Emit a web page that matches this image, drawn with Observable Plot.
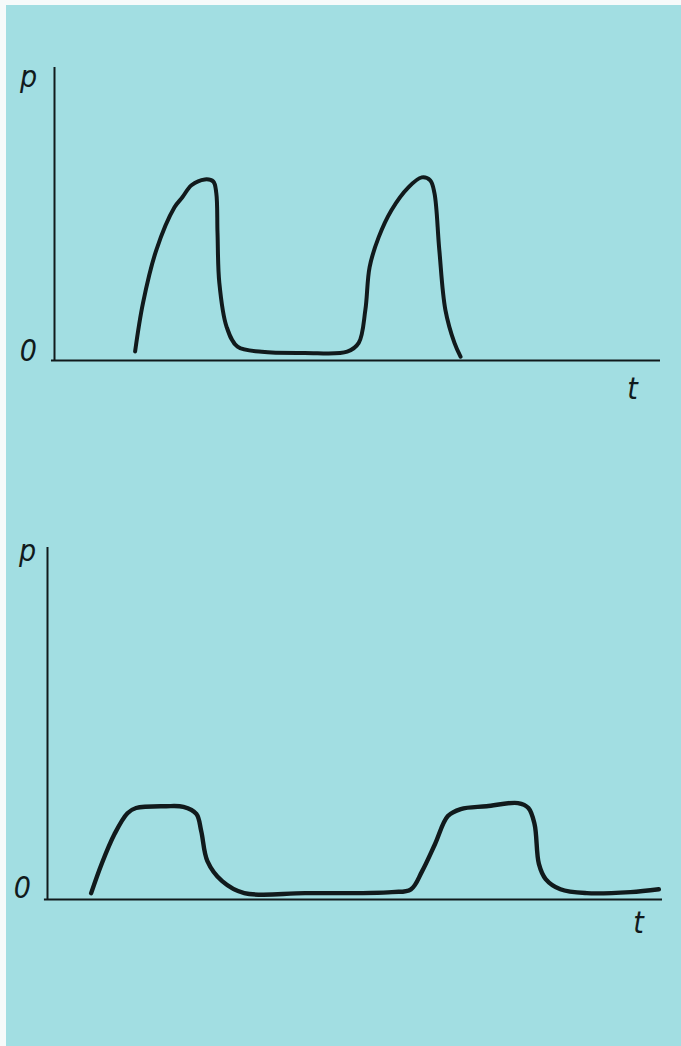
<!DOCTYPE html>
<html>
<head>
<meta charset="utf-8">
<script src="https://cdn.jsdelivr.net/npm/d3@7"></script>
<script src="https://cdn.jsdelivr.net/npm/@observablehq/plot@0.6"></script>
<style>
  html, body { margin: 0; padding: 0; background: #f6fafa; }
  #page { position: absolute; left: 6px; top: 5px; width: 675px; height: 1041px; background: #a2dee2; }
  #top, #bottom { position: absolute; left: 0; }
  #top { top: 0; }
  #bottom { top: 480px; }
  svg { overflow: visible; }
</style>
</head>
<body>
<div id="page"></div>
<div id="top"></div>
<div id="bottom"></div>
<script>
// ---- data (t and p in arbitrary units 0..100) ----
const tTop = [13.3, 14.6, 16.8, 19.8, 21.1, 22.6, 24.8, 26.2, 26.7, 26.9, 27.2, 28.4, 30.2, 34.2, 41.3, 48.3, 50.2, 51.3, 52.0, 53.5, 55.6, 58.4, 60.6, 62.0, 62.7, 63.5, 64.5, 66.0, 67.0];
const pTop = [3.1, 19.6, 37.7, 52.3, 55.7, 59.8, 61.8, 61.1, 57.1, 43.5, 26.5, 11.5, 4.7, 3.0, 2.6, 3.0, 6.0, 17.3, 31.9, 42.1, 51.3, 59.1, 62.5, 61.5, 57.1, 37.7, 17.3, 6.0, 1.3];

const tBottom = [7.1, 8.8, 10.9, 13.0, 14.4, 19.3, 22.1, 24.2, 25.0, 26.0, 28.4, 32.0, 41.9, 56.0, 59.1, 60.9, 63.0, 65.1, 67.2, 71.4, 76.5, 78.2, 79.2, 79.9, 81.0, 83.4, 87.7, 94.8, 99.4];
const pBottom = [1.8, 10.1, 18.6, 24.5, 26.0, 26.5, 26.3, 24.3, 19.4, 10.9, 5.2, 1.8, 1.8, 2.1, 2.9, 8.0, 15.7, 23.7, 25.7, 26.5, 27.4, 26.0, 21.4, 10.1, 5.8, 2.9, 1.8, 2.1, 2.9];

const yAxisLabel = "p";
const xAxisLabel = "t";
const zeroLabel = "0";

const ink = "#111a1c";
const fontFamily = "'DejaVu Sans Condensed', 'DejaVu Sans', sans-serif";

function panel({t, p, width, height, marginLeft, marginRight, marginTop, marginBottom, pLabel, zLabel, tLabel, stroke}) {
  const data = t.map((d, i) => ({t: d, p: p[i]}));
  const label = (txt, pos) => Plot.text([txt], {
    x: pos[0], y: pos[1], text: d => d, fontSize: 30, fontStyle: "italic", fontFamily,
    fill: ink, textAnchor: "middle", lineAnchor: "bottom"
  });
  return Plot.plot({
    width, height, marginLeft, marginRight, marginTop, marginBottom,
    x: {domain: [0, 100], axis: null},
    y: {domain: [0, 100], axis: null},
    style: {background: "transparent", overflow: "visible"},
    marks: [
      Plot.ruleX([0], {y1: 0, y2: 100, stroke: ink, strokeWidth: 2}),
      Plot.ruleY([0], {x1: -0.5, x2: 100, stroke: ink, strokeWidth: 2}),
      Plot.line(data, {x: "t", y: "p", curve: "catmull-rom", stroke: ink, strokeWidth: stroke, strokeLinecap: "round", strokeLinejoin: "round"}),
      label(yAxisLabel, pLabel),
      label(zeroLabel, zLabel),
      label(xAxisLabel, tLabel)
    ]
  });
}

document.getElementById("top").append(panel({
  t: tTop, p: pTop,
  width: 681, height: 420, marginLeft: 54, marginRight: 21, marginTop: 67, marginBottom: 60,
  pLabel: [-4.3, 93.2], zLabel: [-4.3, 0], tLabel: [95.4, -13], stroke: 4
}));

document.getElementById("bottom").append(panel({
  t: tBottom, p: pBottom,
  width: 681, height: 480, marginLeft: 47, marginRight: 19, marginTop: 67, marginBottom: 61,
  pLabel: [-3.25, 96.3], zLabel: [-4.1, 0.3], tLabel: [96.1, -9.4], stroke: 4.4
}));
</script>
</body>
</html>
